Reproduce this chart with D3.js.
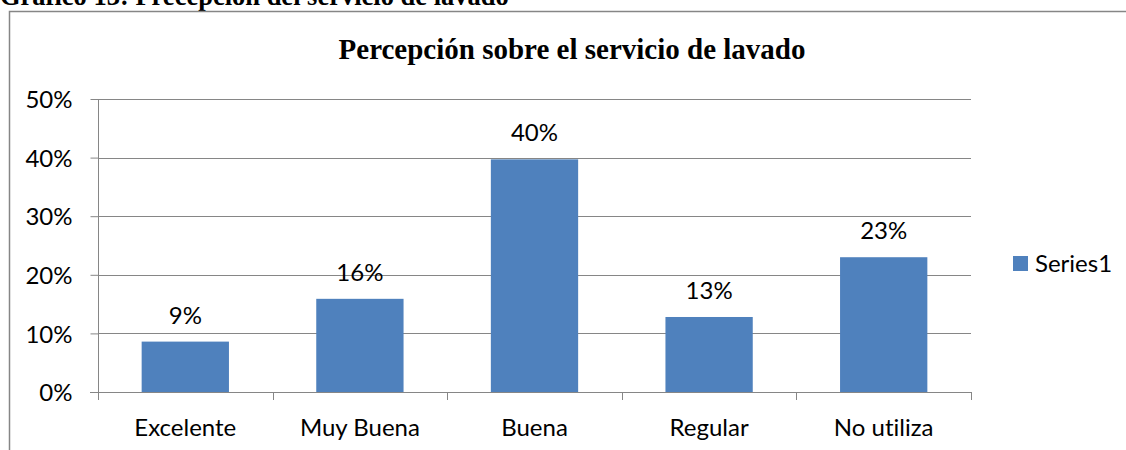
<!DOCTYPE html>
<html>
<head>
<meta charset="utf-8">
<script src="https://cdn.jsdelivr.net/npm/d3@7"></script>
<style>
  body { margin: 0; background: #fff; }
  svg { display: block; }
  text { font-variant-ligatures: none; }
</style>
</head>
<body>
<div id="grafica"></div>
<script>
// datos del grafico
const categorias = ["Excelente", "Muy Buena", "Buena", "Regular", "No utiliza"];
const valores = [0.086, 0.159, 0.397, 0.128, 0.230];
const etiquetas = ["9%", "16%", "40%", "13%", "23%"];
const ticksY = [0, 0.1, 0.2, 0.3, 0.4, 0.5];
const serie = "Series1";

let width = 1126
let height = 450
let izq = 98, der = 971, arriba = 99, abajo = 392
let azul = "#4f81bd"
let gris = "#868686"
let fuente = "Lato, 'Open Sans', sans-serif"
let serif = "'Liberation Serif', 'Times New Roman', serif"

let svg = d3.select("#grafica")
  .append("svg")
    .attr("width", width)
    .attr("height", height)

// leyenda del documento (cortada arriba)
svg.append("text")
  .attr("x", 0).attr("y", 5)
  .style("font-family", serif)
  .style("font-weight", "bold")
  .style("font-size", "26.5px")
  .text("Gráfico 13:  Precepción del servicio de lavado")

// marco
svg.append("rect")
  .attr("x", 9.5).attr("y", 11.5)
  .attr("width", 1200).attr("height", 600)
  .attr("fill", "none")
  .attr("stroke", gris)
  .attr("stroke-width", 1.5)

// titulo
svg.append("text")
  .attr("x", 572).attr("y", 59)
  .attr("text-anchor", "middle")
  .style("font-family", serif)
  .style("font-weight", "bold")
  .style("font-size", "29px")
  .text("Percepción sobre el servicio de lavado")

let x = d3.scaleBand()
  .domain(categorias)
  .range([izq, der])
  .paddingInner(0.5)
  .paddingOuter(0.25)

let y = d3.scaleLinear()
  .domain([0, 0.5])
  .range([abajo, arriba])

// lineas de cuadricula
svg.append("g")
  .selectAll("line")
  .data(ticksY.slice(1))
  .enter()
  .append("line")
    .attr("x1", izq).attr("x2", der)
    .attr("y1", d => Math.round(y(d)) + 0.5)
    .attr("y2", d => Math.round(y(d)) + 0.5)
    .attr("stroke", gris)

// eje Y
let ejeY = svg.append("g")
  .attr("transform", "translate(" + (izq + 0.5) + ",0)")
  .call(d3.axisLeft(y).tickValues(ticksY).tickFormat(d3.format(".0%")).tickSize(8).tickPadding(18))
ejeY.select(".domain").attr("stroke", gris).attr("d", "M0," + arriba + "V" + (abajo + 8))
ejeY.selectAll(".tick line").attr("stroke", gris)
ejeY.selectAll(".tick text")
  .style("font-family", fuente)
  .style("font-size", "24px")
  .attr("dy", "0.36em")
  .attr("fill", "#000")

// barras
svg.append("g")
  .selectAll("rect")
  .data(valores)
  .enter()
  .append("rect")
    .attr("x", (d, i) => x(categorias[i]))
    .attr("y", d => y(d))
    .attr("width", x.bandwidth())
    .attr("height", d => y(0) - y(d))
    .attr("fill", azul)

// eje X
let bordes = d3.range(categorias.length + 1).map(i => izq + i * x.step())
let ejeX = svg.append("g")
ejeX.append("line")
  .attr("x1", izq - 8).attr("x2", der)
  .attr("y1", abajo + 0.5).attr("y2", abajo + 0.5)
  .attr("stroke", gris)
ejeX.selectAll(".tk")
  .data(bordes)
  .enter()
  .append("line")
    .attr("x1", d => Math.round(d) + 0.5).attr("x2", d => Math.round(d) + 0.5)
    .attr("y1", abajo).attr("y2", abajo + 8)
    .attr("stroke", gris)
ejeX.selectAll("text")
  .data(categorias)
  .enter()
  .append("text")
    .attr("x", d => x(d) + x.bandwidth() / 2)
    .attr("y", 436)
    .attr("text-anchor", "middle")
    .style("font-family", fuente)
    .style("font-size", "24px")
    .text(d => d)

// etiquetas de datos
svg.append("g")
  .selectAll("text")
  .data(valores)
  .enter()
  .append("text")
    .attr("x", (d, i) => x(categorias[i]) + x.bandwidth() / 2)
    .attr("y", d => y(d) - 18)
    .attr("text-anchor", "middle")
    .style("font-family", fuente)
    .style("font-size", "24px")
    .text((d, i) => etiquetas[i])

// leyenda
let ley = svg.append("g")
ley.append("rect")
  .attr("x", 1013).attr("y", 256)
  .attr("width", 15).attr("height", 15)
  .attr("fill", azul)
ley.append("text")
  .attr("x", 1035).attr("y", 272)
  .style("font-family", fuente)
  .style("font-size", "24px")
  .text(serie)
</script>
</body>
</html>
